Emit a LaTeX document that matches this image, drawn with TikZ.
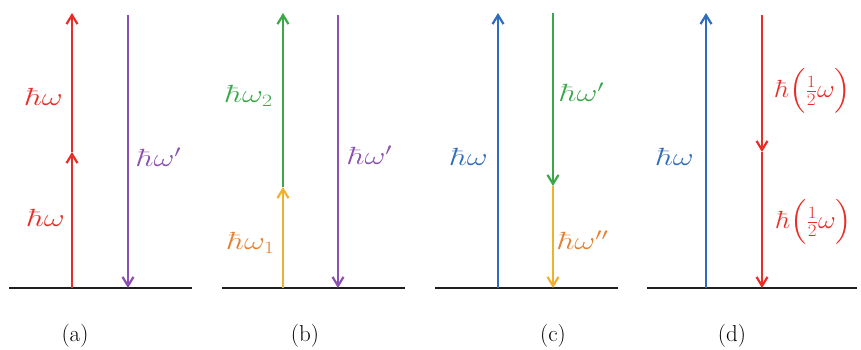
\documentclass[tikz,border=0pt]{standalone}
\usepackage{graphicx}
\usepackage{exscale}
\usetikzlibrary{arrows.meta}
\definecolor{cred}{RGB}{232,45,40}
\definecolor{cpurple}{RGB}{138,80,178}
\definecolor{cgreen}{RGB}{58,168,72}
\definecolor{corange}{RGB}{240,176,50}
\definecolor{clorange}{RGB}{228,128,48}
\definecolor{cblue}{RGB}{48,108,188}
\definecolor{cgray}{RGB}{30,30,30}
\newcommand{\wlab}[1]{\scalebox{1.3}[1]{$#1$}}
\tikzset{
  arr/.style={line width=2.4pt,-{Straight Barb[length=9pt,width=11pt,line width=2.2pt]}},
  base/.style={line width=2.6pt,cgray},
  lab/.style={font=\fontsize{27}{29}\selectfont,inner sep=0pt},
  captionlab/.style={font=\fontsize{23}{26}\selectfont,inner sep=0pt}
}
\begin{document}
\begin{tikzpicture}[x=1pt,y=-1pt]
\useasboundingbox (0,0) rectangle (861,349);
% (a)
\coordinate (a0) at (72,288);
\coordinate (a1) at (72,152);
\coordinate (a2) at (72,13);
\coordinate (ap0) at (128,15);
\coordinate (ap1) at (128,288);
\coordinate (al) at (9,288);
\coordinate (ar) at (192,288);
\draw[base] (al) -- (ar);
\draw[arr,cred] (a0) -- (a1);
\draw[arr,cred] (a1) -- (a2);
\draw[arr,cpurple] (ap0) -- (ap1);
\node[lab,text=cred] (la1) at (44,97) {\wlab{\hbar\omega}};
\node[lab,text=cred] (la2) at (46,218) {\wlab{\hbar\omega}};
\node[lab,text=cpurple] (la3) at (159,157) {\wlab{\hbar\omega'}};
\node[captionlab] (ca) at (75,336) {(a)};
% (b)
\coordinate (b0) at (283,288);
\coordinate (b1) at (283,187);
\coordinate (b2) at (283,13);
\coordinate (bp0) at (338,15);
\coordinate (bp1) at (338,288);
\coordinate (bl) at (222,288);
\coordinate (br) at (405,288);
\draw[base] (bl) -- (br);
\draw[arr,corange] (b0) -- (b1);
\draw[arr,cgreen] (b1) -- (b2);
\draw[arr,cpurple] (bp0) -- (bp1);
\node[lab,text=cgreen] (lb1) at (249,96) {\wlab{\hbar\omega_2}};
\node[lab,text=clorange] (lb2) at (251,243) {\wlab{\hbar\omega_1}};
\node[lab,text=cpurple] (lb3) at (370,155) {\wlab{\hbar\omega'}};
\node[captionlab] (cb) at (305,336) {(b)};
% (c)
\coordinate (c0) at (498,288);
\coordinate (c1) at (498,13);
\coordinate (cg0) at (553,13);
\coordinate (cg1) at (553,186);
\coordinate (cg2) at (553,288);
\coordinate (cl) at (435,288);
\coordinate (cr) at (618,288);
\draw[base] (cl) -- (cr);
\draw[arr,cblue] (c0) -- (c1);
\draw[arr,cgreen] (cg0) -- (cg1);
\draw[arr,corange] (cg1) -- (cg2);
\node[lab,text=cblue] (lc1) at (469,157) {\wlab{\hbar\omega}};
\node[lab,text=cgreen] (lc2) at (582,92) {\wlab{\hbar\omega'}};
\node[lab,text=clorange] (lc3) at (583,240) {\wlab{\hbar\omega''}};
\node[captionlab] (cc) at (553,336) {(c)};
% (d)
\coordinate (d0) at (706,288);
\coordinate (d1) at (706,13);
\coordinate (dr0) at (762,15);
\coordinate (dr1) at (762,152);
\coordinate (dr2) at (762,288);
\coordinate (dl) at (647,288);
\coordinate (drr) at (857,288);
\draw[base] (dl) -- (drr);
\draw[arr,cblue] (d0) -- (d1);
\draw[arr,cred] (dr0) -- (dr1);
\draw[arr,cred] (dr1) -- (dr2);
\node[lab,text=cblue] (ld1) at (675,157) {\wlab{\hbar\omega}};
\node[lab,text=cred] (ld2) at (813,91) {\scalebox{1.1}[1]{$\hbar\Bigl(\frac{1}{2}\omega\Bigr)$}};
\node[lab,text=cred] (ld3) at (814,222) {\scalebox{1.1}[1]{$\hbar\Bigl(\frac{1}{2}\omega\Bigr)$}};
\node[captionlab] (cd) at (732,336) {(d)};
\end{tikzpicture}
\end{document}
